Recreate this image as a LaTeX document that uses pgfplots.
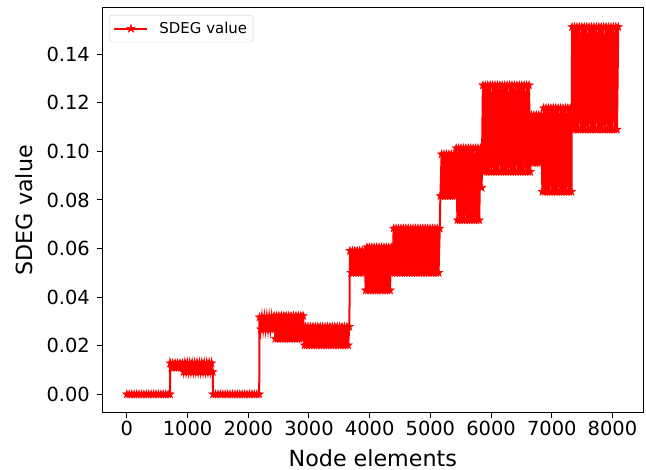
\documentclass[border=0pt]{standalone}
\usepackage{pgfplots}
\pgfplotsset{compat=1.18}
\usepackage{fontspec}
\setmainfont{DejaVu Sans}

\pgfdeclareplotmark{fstar}{%
  \pgfpathmoveto{\pgfpointpolar{90}{\pgfplotmarksize}}%
  \pgfpathlineto{\pgfpointpolar{126}{0.382\pgfplotmarksize}}%
  \pgfpathlineto{\pgfpointpolar{162}{\pgfplotmarksize}}%
  \pgfpathlineto{\pgfpointpolar{198}{0.382\pgfplotmarksize}}%
  \pgfpathlineto{\pgfpointpolar{234}{\pgfplotmarksize}}%
  \pgfpathlineto{\pgfpointpolar{270}{0.382\pgfplotmarksize}}%
  \pgfpathlineto{\pgfpointpolar{306}{\pgfplotmarksize}}%
  \pgfpathlineto{\pgfpointpolar{342}{0.382\pgfplotmarksize}}%
  \pgfpathlineto{\pgfpointpolar{18}{\pgfplotmarksize}}%
  \pgfpathlineto{\pgfpointpolar{54}{0.382\pgfplotmarksize}}%
  \pgfpathclose
  \pgfusepathqfillstroke}

\begin{document}
\begin{tikzpicture}
\begin{axis}[
  width=541bp, height=404.7bp, scale only axis,
  xmin=-405, xmax=8508, ymin=-0.00757, ymax=0.159,
  xtick={0,1000,2000,3000,4000,5000,6000,7000,8000},
  ytick={0,0.02,0.04,0.06,0.08,0.10,0.12,0.14},
  scaled x ticks=false, scaled y ticks=false,
  /pgf/number format/assume math mode=true,
  xticklabel style={/pgf/number format/1000 sep={}},
  yticklabel style={/pgf/number format/.cd, fixed, fixed zerofill, precision=2, /tikz/.cd, xshift=-4bp},
  tick align=outside, xtick pos=left, ytick pos=left,
  major tick length=5bp,
  every tick/.style={black, line width=1bp},
  axis line style={black, line width=1bp},
  tick label style={font=\fontsize{19.5}{23}\selectfont},
  label style={font=\fontsize{22.3}{26}\selectfont},
  xlabel={Node elements}, ylabel={SDEG value},
  xlabel style={at={(axis description cs:0.5,0)}, anchor=base, yshift=-53.5bp},
  ylabel style={at={(axis description cs:0,0.5)}, anchor=base, yshift=69.3bp},
  legend style={at={(0,1)}, anchor=north west, xshift=7bp, yshift=-7bp,
    font=\fontsize{15}{18}\selectfont, draw=black!20, rounded corners=2.5bp,
    inner xsep=4bp, inner ysep=5bp, column sep=9bp},
  legend cell align=left,
  legend image code/.code={\draw[mark repeat=2,mark phase=2,#1] plot coordinates {(0bp,0bp)(16.5bp,0bp)(33bp,0bp)};},
]
\addplot[color=red, line width=2bp, mark=fstar, mark size=4.3bp,
  mark options={solid, fill=red, draw=red, line width=0.5bp}] coordinates {
(0,0)(40,0)(80,0)(120,0)(160,0)(200,0)(240,0)(280,0)(320,0)(360,0)(400,0)(440,0)(480,0)(520,0)(560,0)(600,0)(640,0)(680,0)(710,0)
(715,0.0128)(735,0.0110)(755,0.0128)(775,0.0110)(795,0.0128)(815,0.0110)(835,0.0128)(855,0.0110)(875,0.0128)(895,0.0110)(915,0.0128)
(935,0.0092)(955,0.0128)(975,0.0092)(995,0.0128)(1015,0.0092)(1035,0.0128)(1055,0.0092)(1075,0.0128)(1095,0.0092)(1115,0.0128)(1135,0.0092)(1155,0.0128)(1175,0.0092)(1195,0.0128)(1215,0.0092)(1235,0.0128)(1255,0.0092)(1275,0.0128)(1295,0.0092)(1315,0.0128)(1335,0.0092)(1355,0.0128)(1375,0.0092)(1395,0.0128)(1415,0.0092)
(1420,0)(1460,0)(1500,0)(1540,0)(1580,0)(1620,0)(1660,0)(1700,0)(1740,0)(1780,0)(1820,0)(1860,0)(1900,0)(1940,0)(1980,0)(2020,0)(2060,0)(2100,0)(2140,0)(2180,0)
(2185,0.0317)(2205,0.0268)(2225,0.0317)(2245,0.0268)(2265,0.0317)(2285,0.0268)(2305,0.0317)(2325,0.0268)(2345,0.0317)(2365,0.0268)(2385,0.0317)(2405,0.0268)
(2425,0.0323)(2445,0.0229)(2465,0.0323)(2485,0.0229)(2505,0.0323)(2525,0.0229)(2545,0.0323)(2565,0.0229)(2585,0.0323)(2605,0.0229)(2625,0.0323)(2645,0.0229)(2665,0.0323)(2685,0.0229)(2705,0.0323)(2725,0.0229)(2745,0.0323)(2765,0.0229)(2785,0.0323)(2805,0.0229)(2825,0.0323)(2845,0.0229)(2865,0.0323)(2885,0.0229)(2905,0.0323)
(2925,0.0202)(2945,0.0278)(2965,0.0202)(2985,0.0278)(3005,0.0202)(3025,0.0278)(3045,0.0202)(3065,0.0278)(3085,0.0202)(3105,0.0278)(3125,0.0202)(3145,0.0278)(3165,0.0202)(3185,0.0278)(3205,0.0202)(3225,0.0278)(3245,0.0202)(3265,0.0278)(3285,0.0202)(3305,0.0278)(3325,0.0202)(3345,0.0278)(3365,0.0202)(3385,0.0278)(3405,0.0202)(3425,0.0278)(3445,0.0202)(3465,0.0278)(3485,0.0202)(3505,0.0278)(3525,0.0202)(3545,0.0278)(3565,0.0202)(3585,0.0278)(3605,0.0202)(3625,0.0278)(3645,0.0202)(3665,0.0278)
(3675,0.0591)(3695,0.0500)(3715,0.0591)(3735,0.0500)(3755,0.0591)(3775,0.0500)(3795,0.0591)(3815,0.0500)(3835,0.0591)(3855,0.0500)(3875,0.0591)(3895,0.0500)(3915,0.0591)
(3935,0.0428)(3955,0.0605)(3975,0.0428)(3995,0.0605)(4015,0.0428)(4035,0.0605)(4055,0.0428)(4075,0.0605)(4095,0.0428)(4115,0.0605)(4135,0.0428)(4155,0.0605)(4175,0.0428)(4195,0.0605)(4215,0.0428)(4235,0.0605)(4255,0.0428)(4275,0.0605)(4295,0.0428)(4315,0.0605)(4335,0.0428)(4355,0.0605)
(4375,0.0500)(4395,0.0683)(4415,0.0500)(4435,0.0683)(4455,0.0500)(4475,0.0683)(4495,0.0500)(4515,0.0683)(4535,0.0500)(4555,0.0683)(4575,0.0500)(4595,0.0683)(4615,0.0500)(4635,0.0683)(4655,0.0500)(4675,0.0683)(4695,0.0500)(4715,0.0683)(4735,0.0500)(4755,0.0683)(4775,0.0500)(4795,0.0683)(4815,0.0500)(4835,0.0683)(4855,0.0500)(4875,0.0683)(4895,0.0500)(4915,0.0683)(4935,0.0500)(4955,0.0683)(4975,0.0500)(4995,0.0683)(5015,0.0500)(5035,0.0683)(5055,0.0500)(5075,0.0683)(5095,0.0500)(5115,0.0683)(5135,0.0500)(5155,0.0683)
(5165,0.0816)(5185,0.0988)(5205,0.0816)(5225,0.0988)(5245,0.0816)(5265,0.0988)(5285,0.0816)(5305,0.0988)(5325,0.0816)(5345,0.0988)(5365,0.0816)(5385,0.0988)(5405,0.0816)
(5425,0.1013)(5445,0.0717)(5465,0.1013)(5485,0.0717)(5505,0.1013)(5525,0.0717)(5545,0.1013)(5565,0.0717)(5585,0.1013)(5605,0.0717)(5625,0.1013)(5645,0.0717)(5665,0.1013)(5685,0.0717)(5705,0.1013)(5725,0.0717)(5745,0.1013)(5765,0.0717)(5785,0.1013)(5805,0.0717)(5825,0.1013)(5845,0.0850)
(5865,0.1272)(5885,0.0916)(5905,0.1272)(5925,0.0916)(5945,0.1272)(5965,0.0916)(5985,0.1272)(6005,0.0916)(6025,0.1272)(6045,0.0916)(6065,0.1272)(6085,0.0916)(6105,0.1272)(6125,0.0916)(6145,0.1272)(6165,0.0916)(6185,0.1272)(6205,0.0916)(6225,0.1272)(6245,0.0916)(6265,0.1272)(6285,0.0916)(6305,0.1272)(6325,0.0916)(6345,0.1272)(6365,0.0916)(6385,0.1272)(6405,0.0916)(6425,0.1272)(6445,0.0916)(6465,0.1272)(6485,0.0916)(6505,0.1272)(6525,0.0916)(6545,0.1272)(6565,0.0916)(6585,0.1272)(6605,0.0916)(6625,0.1272)(6645,0.0916)
(6665,0.1149)(6685,0.0953)(6705,0.1149)(6725,0.0953)(6745,0.1149)(6765,0.0953)(6785,0.1149)(6805,0.0953)(6825,0.1149)
(6845,0.0834)(6865,0.1178)(6885,0.0834)(6905,0.1178)(6925,0.0834)(6945,0.1178)(6965,0.0834)(6985,0.1178)(7005,0.0834)(7025,0.1178)(7045,0.0834)(7065,0.1178)(7085,0.0834)(7105,0.1178)(7125,0.0834)(7145,0.1178)(7165,0.0834)(7185,0.1178)(7205,0.0834)(7225,0.1178)(7245,0.0834)(7265,0.1178)(7285,0.0834)(7305,0.1178)(7325,0.0834)
(7335,0.1512)(7355,0.1090)(7375,0.1512)(7395,0.1090)(7415,0.1512)(7435,0.1090)(7455,0.1512)(7475,0.1090)(7495,0.1512)(7515,0.1090)(7535,0.1512)(7555,0.1090)(7575,0.1512)(7595,0.1090)(7615,0.1512)(7635,0.1090)(7655,0.1512)(7675,0.1090)(7695,0.1512)(7715,0.1090)(7735,0.1512)(7755,0.1090)(7775,0.1512)(7795,0.1090)(7815,0.1512)(7835,0.1090)(7855,0.1512)(7875,0.1090)(7895,0.1512)(7915,0.1090)(7935,0.1512)(7955,0.1090)(7975,0.1512)(7995,0.1090)(8015,0.1512)(8035,0.1090)(8055,0.1512)(8075,0.1090)(8095,0.1512)
};
\addlegendentry{SDEG value}
\end{axis}
\pgfresetboundingbox
\useasboundingbox ([xshift=-102.3bp,yshift=-57.3bp]current axis.south west) rectangle ([xshift=2.7bp,yshift=8bp]current axis.north east);
\end{tikzpicture}
\end{document}
